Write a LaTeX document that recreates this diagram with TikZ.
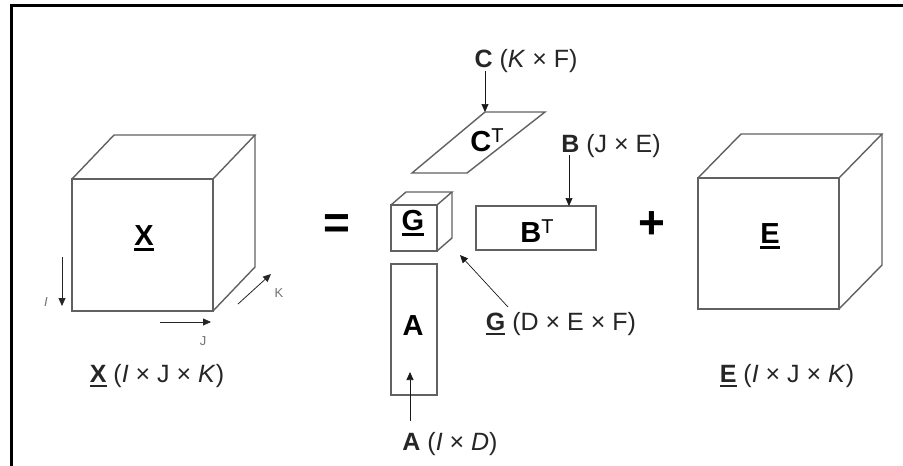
\documentclass[tikz,border=0pt]{standalone}
\usepackage{fontspec}
\setmainfont{Liberation Sans}
\usetikzlibrary{arrows.meta}
\newcommand\tul[2][3pt]{\leavevmode\vtop{\hbox{#2}\kern3pt\hrule height #1}}
\newcommand\supT{\raisebox{0.3em}{\fontsize{20}{20}\selectfont\mdseries T}}
\tikzset{
  edge/.style={draw=black!62, line width=1.4pt, line join=miter},
  conn/.style={draw=black!90, line width=0.7pt, -{Triangle[length=8pt,width=7pt]}},
  axarrow/.style={draw=black!85, line width=0.8pt, -{Triangle[length=8pt,width=7pt]}},
  big/.style={font=\fontsize{29}{29}\selectfont\bfseries, anchor=base, inner sep=0pt},
  lab/.style={font=\fontsize{25}{25}\selectfont, anchor=base, inner sep=0pt, text=black!85},
  ax/.style={font=\fontsize{13}{13}\selectfont, text=black!55, inner sep=0pt},
  op/.style={font=\fontsize{46}{46}\selectfont\bfseries, inner sep=0pt}
}
\begin{document}
\begin{tikzpicture}[x=1pt,y=-1pt]
\useasboundingbox (0,0) rectangle (903,466);
\fill[white] (0,0) rectangle (903,466);
% frame
\draw[line width=3pt] (11.5,466) -- (11.5,5.5) -- (903,5.5);

% ---- X cube
\coordinate (xa) at (72,179);  \coordinate (xb) at (213,179);
\coordinate (xc) at (213,311); \coordinate (xd) at (72,311);
\coordinate (xe) at (114,135); \coordinate (xf) at (255,135);
\coordinate (xg) at (255,267);
\draw[edge] (xa) rectangle (xc);
\draw[edge] (xa) -- (xe) -- (xf) -- (xb);
\draw[edge] (xf) -- (xg) -- (xc);
\node[big] (Xl) at (144,245) {\tul{X}};

% axes
\coordinate (i1) at (62,257); \coordinate (i2) at (62,306);
\coordinate (j1) at (160,322); \coordinate (j2) at (211,322);
\coordinate (k1) at (238,304); \coordinate (k2) at (271,274);
\draw[axarrow] (i1) -- (i2);
\draw[axarrow] (j1) -- (j2);
\draw[axarrow] (k1) -- (k2);
\node[ax] (Il) at (46,302) {\itshape I};
\node[ax] (Jl) at (203,341) {J};
\node[ax] (Kl) at (279,293) {K};
\node[lab] (Xcap) at (157,382) {\tul[2.2pt]{\bfseries X} (\textit{I} × J × \textit{K})};

% = sign
\node[op] (eq) at (337,227) {=};

% ---- G cube
\coordinate (ga) at (391,205);  \coordinate (gb) at (437,205);
\coordinate (gc) at (437,251);  \coordinate (gd) at (391,251);
\coordinate (ge) at (406,192);  \coordinate (gf) at (452,192);
\coordinate (gg) at (452,238);
\draw[edge] (ga) rectangle (gc);
\draw[edge] (ga) -- (ge) -- (gf) -- (gb);
\draw[edge] (gf) -- (gg) -- (gc);
\node[big] (Gl) at (413,230) {\tul{G}};

% ---- A rect
\coordinate (aa) at (391,264); \coordinate (ab) at (437,395);
\draw[edge] (aa) rectangle (ab);
\node[big] (Al) at (413,335) {A};

% ---- B^T rect
\coordinate (ba) at (476,206); \coordinate (bb) at (596,250);
\draw[edge] (ba) rectangle (bb);
\node[big] (Bl) at (537,242) {B\supT};

% ---- C^T parallelogram
\coordinate (ca) at (485,112); \coordinate (cb) at (545,112);
\coordinate (cc) at (467,173); \coordinate (cd) at (412,173);
\draw[edge] (ca) -- (cb) -- (cc) -- (cd) -- cycle;
\node[big] (Cl) at (487,151) {C\supT};

% + sign
\node[op] (plus) at (652,225) {+};

% ---- E cube
\coordinate (ea) at (698,178);  \coordinate (eb) at (839,178);
\coordinate (ec) at (839,309);  \coordinate (ed) at (698,309);
\coordinate (ee) at (741,134);  \coordinate (ef) at (882,134);
\coordinate (eg) at (882,265);
\draw[edge] (ea) rectangle (ec);
\draw[edge] (ea) -- (ee) -- (ef) -- (eb);
\draw[edge] (ef) -- (eg) -- (ec);
\node[big] (El) at (770,243) {\tul{E}};
\node[lab] (Ecap) at (787,382) {\tul[2.2pt]{\bfseries E} (\textit{I} × J × \textit{K})};

% ---- labels with connectors
\node[lab] (Ctop) at (526,67) {\textbf{C} (\textit{K} × F)};
\coordinate (cs) at (485,71);
\draw[conn] (cs) -- (ca);

\node[lab] (Btop) at (611,152) {\textbf{B} (J × E)};
\coordinate (bs) at (569,155);
\coordinate (bt) at (569,206);
\draw[conn] (bs) -- (bt);

\node[lab] (Glab) at (561,330) {\tul[2.2pt]{\bfseries G} (D × E × F)};
\coordinate (gs) at (508,307);
\coordinate (gt) at (460,255);
\draw[conn] (gs) -- (gt);

\node[lab] (Alab) at (450,450) {\textbf{A} (\textit{I} × \textit{D})};
\coordinate (as) at (410,421);
\coordinate (at) at (410,372);
\draw[conn] (as) -- (at);
\end{tikzpicture}
\end{document}
